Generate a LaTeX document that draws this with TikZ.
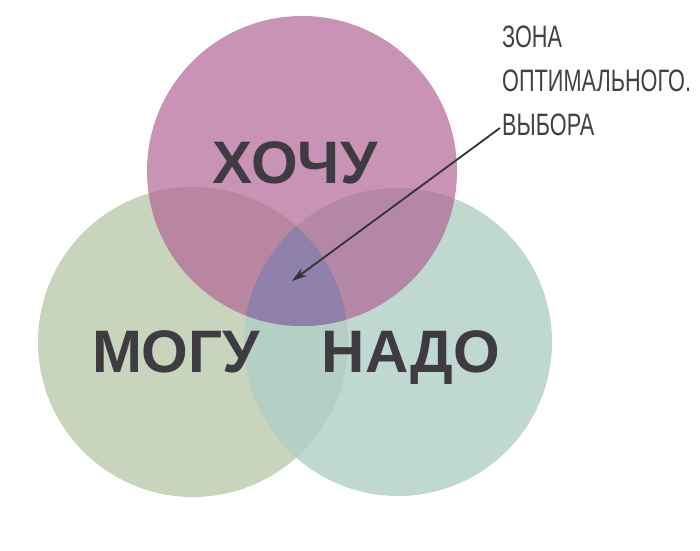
\documentclass[tikz,border=0pt]{standalone}
\usepackage{fontspec}
\setmainfont{Liberation Sans}
\newfontfamily\notefont[FakeStretch=0.7]{Liberation Sans}
\usetikzlibrary{arrows.meta}

\definecolor{wantpink}{RGB}{178,101,149}
\definecolor{cangreen}{RGB}{200,213,188}
\definecolor{mustteal}{RGB}{176,208,198}
\definecolor{bestviolet}{RGB}{142,128,170}
\definecolor{wordgray}{RGB}{62,59,67}
\definecolor{notegray}{RGB}{65,65,68}

\tikzset{
  word/.style={font=\fontsize{60}{60}\selectfont\bfseries, text=wordgray, inner sep=0pt, anchor=base},
  note/.style={font=\notefont\fontsize{31}{44}\selectfont, text=notegray, inner sep=0pt, align=left},
  pointer/.style={-{Stealth[length=15pt,width=9pt]}, line width=1.8pt, draw=black!80}
}

\begin{document}
\begin{tikzpicture}[x=1pt,y=1pt]
  \useasboundingbox (0,0) rectangle (700,550);

  % Circle centres
  \coordinate (want) at (302,379);
  \coordinate (can) at (193,208);
  \coordinate (must) at (398,208);

  % Circles
  \fill[cangreen] (can) circle (155);
  \fill[mustteal, opacity=0.81] (must) circle (154);
  \fill[wantpink, opacity=0.7] (want) circle (155);

  % Zone of optimal choice
  \begin{scope}
    \clip (want) circle (155);
    \clip (can) circle (155);
    \fill[bestviolet] (must) circle (154);
  \end{scope}

  % Labels
  \node[word] (khochu) at (295,367) {ХОЧУ};
  \node[word] (mogu) at (176,178) {МОГУ};
  \node[word] (nado) at (411,178) {НАДО};

  \node[note, anchor=north west] (zonenote) at (502,524) {ЗОНА\\ОПТИМАЛЬНОГО.\\ВЫБОРА};
  \coordinate (tail) at (500,422);
  \coordinate (best) at (292,269);
  \draw[pointer] (tail) -- (best);
\end{tikzpicture}
\end{document}
